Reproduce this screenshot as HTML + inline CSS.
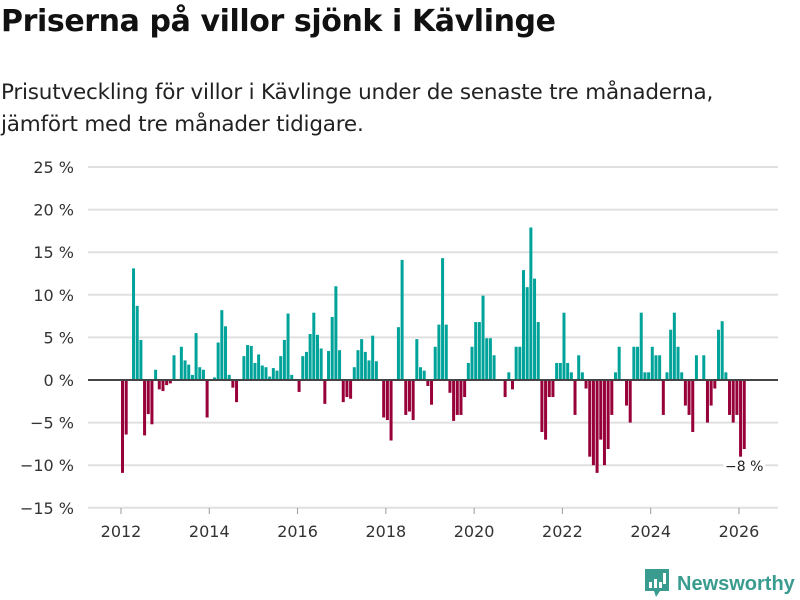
<!DOCTYPE html>
<html><head><meta charset="utf-8"><style>
body{margin:0;width:800px;height:600px;background:#fff;font-family:"DejaVu Sans","Liberation Sans",sans-serif;overflow:hidden;position:relative}
#title{position:absolute;left:1px;top:4px;font-size:30px;font-weight:bold;color:#111;margin:0;letter-spacing:-0.4px}
#sub{position:absolute;left:1px;top:77px;font-size:21.5px;line-height:32px;color:#222;margin:0;letter-spacing:-0.2px}
svg{position:absolute;left:0;top:0}
#logo{position:absolute;left:645px;top:569px;display:flex;align-items:center;font-size:20px;color:#3a9c8f;font-weight:bold;font-family:"Liberation Sans",sans-serif;white-space:nowrap}
</style></head><body>
<h1 id="title">Priserna på villor sjönk i Kävlinge</h1>
<p id="sub">Prisutveckling för villor i Kävlinge under de senaste tre månaderna,<br>jämfört med tre månader tidigare.</p>
<svg id="chart" width="800" height="600"></svg>
<div id="logo">
<svg width="24" height="30" viewBox="0 0 24 30" style="position:static;margin-right:8px"><path d="M0 0H24V22H15L11 28L9 22H0Z" fill="#3a9c8f"/><rect x="4" y="13" width="3" height="6" fill="#fff"/><rect x="9" y="10" width="3" height="9" fill="#fff"/><rect x="14" y="13" width="3" height="6" fill="#fff"/><rect x="18" y="4" width="3" height="11" fill="#fff"/></svg>Newsworthy</div>
<script>
const values=[-10.9,-6.4,0,13.1,8.7,4.7,-6.5,-4,-5.2,1.2,-1.1,-1.3,-0.6,-0.4,2.9,0,3.9,2.3,1.8,0.6,5.5,1.5,1.2,-4.4,0,0.3,4.4,8.2,6.3,0.6,-0.9,-2.6,0,2.8,4.1,4.0,2.0,3.0,1.7,1.5,0.4,1.4,1.1,2.8,4.7,7.8,0.6,0,-1.4,2.8,3.3,5.4,7.9,5.3,3.7,-2.8,3.4,
7.4,11.0,3.5,-2.6,-2,-2.2,1.5,3.5,4.8,3.3,2.3,5.2,2.2,0,-4.4,-4.7,-7.1,0,6.2,14.1,-4.1,-3.7,-4.7,4.8,1.5,1.1,-0.7,-2.9,3.9,6.5,14.3,6.5,-1.5,-4.8,-4.1,-4.1,-2,2,3.9,6.8,6.8,9.9,4.9,4.9,2.9,0,0,-2,0.9,-1.1,3.9,3.9,12.9,10.9,17.9,11.9,6.8,-6.1,-7,-2,-2,2,2,7.9,2,0.9,-4.1,2.9,0.9,-1,-9,-10,-10.9,-7,-10,-8.1,-4.1,0.9,3.9,0,-3,-5,3.9,3.9,7.9,0.9,0.9,3.9,2.9,2.9,-4.1,0.9,5.9,7.9,3.9,0.9,-3,-4.1,-6.1,2.9,0,2.9,-5,-3,-1,5.9,6.9,0.9,-4.1,-5,-4.1,-9,-8.1];
const yTicks=[25,20,15,10,5,0,-5,-10,-15];
const xYears=[2012,2014,2016,2018,2020,2022,2024,2026];
const startYear=2012;
const lastLabel="−8 %";
const svg=document.getElementById('chart');
const NS='http://www.w3.org/2000/svg';
const y=v=>380-v*8.52;
const x=m=>122.5+m*3.679;
const xYear=yr=>121+(yr-startYear)*44.14;
function mk(t,a){const e=document.createElementNS(NS,t);for(const k in a)e.setAttribute(k,a[k]);svg.appendChild(e);return e;}
yTicks.forEach(v=>{
 const g=mk('line',{x1:88,x2:778,y1:y(v),y2:y(v),stroke:'#e0e0e0','stroke-width':2});
 
 
 const t=mk('text',{x:74,y:y(v)+6,'text-anchor':'end','font-size':16,fill:'#333','font-family':'DejaVu Sans, Liberation Sans, sans-serif'});
 t.textContent=(v<0?'−'+(-v):v)+' %';
 
 
});
values.forEach((v,i)=>{
 const r=mk('rect',{x:x(i)-1.5,y:Math.min(y(v),380),width:3,height:Math.abs(y(v)-380),fill:v>=0?'#00a399':'#970038'});
 
 
});
const ax=mk('line',{x1:88,x2:778,y1:380,y2:380,stroke:'#444','stroke-width':2});


xYears.forEach(yr=>{
 const tk=mk('line',{x1:xYear(yr),x2:xYear(yr),y1:508,y2:514,stroke:'#999','stroke-width':1});
 
 
 const t=mk('text',{x:xYear(yr),y:537,'text-anchor':'middle','font-size':16,fill:'#333','font-family':'DejaVu Sans, Liberation Sans, sans-serif'});
 t.textContent=yr;
 
 
});
const n=values.length-1;
const lb=mk('rect',{x:x(n)-21,y:y(values[n])+8,width:42,height:18,fill:'#fff'});


const lt=mk('text',{x:x(n),y:y(values[n])+22,'text-anchor':'middle','font-size':14,fill:'#222','font-family':'DejaVu Sans, Liberation Sans, sans-serif'});
lt.textContent=lastLabel;


</script>
</body></html>
